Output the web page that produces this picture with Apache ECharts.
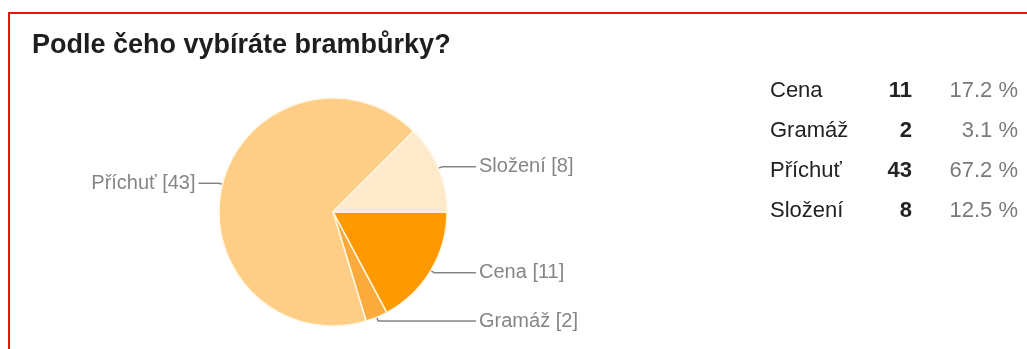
<!DOCTYPE html>
<html>
<head>
<meta charset="utf-8">
<script src="https://cdn.jsdelivr.net/npm/echarts@6/dist/echarts.min.js"></script>
<style>
  html, body { margin: 0; padding: 0; background: #ffffff; }
  #chart { width: 1027px; height: 349px; }
</style>
</head>
<body>
<div id="chart"></div>
<script>
// Survey answers: what people choose crisps by
const categories = ['Cena', 'Gramáž', 'Příchuť', 'Složení'];
const counts = [11, 2, 43, 8];
const sliceColors = ['#ff9900', '#fbab3c', '#fecd86', '#feeacb'];

const FONT = 'Arial, "Liberation Sans", sans-serif';
const total = counts.reduce((a, b) => a + b, 0);
const pieCenter = [333, 212];

// Summary table to the right of the pie
const tableRows = [];
const rowTop = 92, rowStep = 40;
categories.forEach((name, i) => {
  const y = rowTop + i * rowStep;
  tableRows.push({
    type: 'text', left: 770, top: y - 12,
    style: { text: name, font: '22px ' + FONT, fill: '#222222' }
  });
  tableRows.push({
    type: 'text', right: 1027 - 912, top: y - 12,
    style: { text: String(counts[i]), font: 'bold 22px ' + FONT, fill: '#222222', textAlign: 'right' }
  });
  tableRows.push({
    type: 'text', right: 1027 - 1018, top: y - 12,
    style: { text: (counts[i] / total * 100).toFixed(1) + ' %', font: '22px ' + FONT, fill: '#7a7a7a', textAlign: 'right' }
  });
});

// Labels on the right of the pie sit a little further out than those on the left
const rightExtra = 14;
function pieLabelLayout(params) {
  const pts = params.labelLinePoints;
  if (!pts || params.labelRect.x < pieCenter[0]) return {};
  const moved = pts.map((p, k) => k === pts.length - 1 ? [p[0] + rightExtra, p[1]] : [p[0], p[1]]);
  return { dx: rightExtra, labelLinePoints: moved };
}

const chart = echarts.init(document.getElementById('chart'), null, { renderer: 'canvas' });
chart.setOption({
  backgroundColor: '#ffffff',
  animation: false,
  title: {
    text: 'Podle čeho vybíráte brambůrky?',
    left: 27, top: 27,
    textStyle: { fontFamily: FONT, fontSize: 27, fontWeight: 'bold', color: '#1e1e1e' }
  },
  graphic: [
    {
      type: 'polyline', silent: true,
      shape: { points: [[9, 400], [9, 13], [1100, 13]] },
      style: { stroke: '#ee1111', lineWidth: 2, fill: null }
    }
  ].concat(tableRows),
  series: [{
    type: 'pie',
    center: pieCenter,
    radius: 114,
    startAngle: 0,
    clockwise: true,
    avoidLabelOverlap: true,
    data: categories.map((name, i) => ({
      name: name, value: counts[i], itemStyle: { color: sliceColors[i] }
    })),
    itemStyle: { borderColor: '#fff6e2', borderWidth: 1.5 },
    label: {
      formatter: '{b} [{c}]',
      color: '#858585',
      fontFamily: FONT,
      fontSize: 20,
      alignTo: 'labelLine',
      distanceToLabelLine: 3
    },
    labelLine: {
      length: 4, length2: 20,
      lineStyle: { color: '#858585', width: 1.5 }
    },
    labelLayout: pieLabelLayout,
    emphasis: { disabled: true }
  }]
});
</script>
</body>
</html>
